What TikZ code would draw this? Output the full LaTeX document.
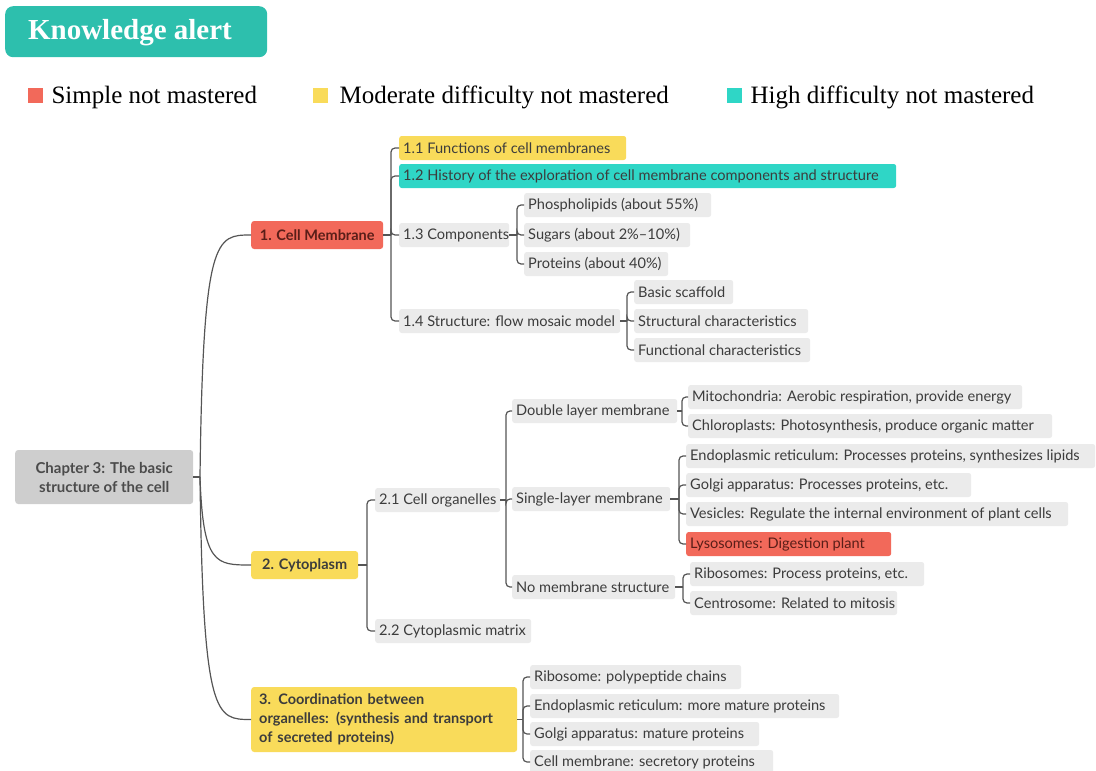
\documentclass[tikz,border=0pt]{standalone}
\usepackage{fontspec}
\setmainfont{Liberation Serif}
\newfontfamily\mapfont{Lato}
\usetikzlibrary{calc}
\definecolor{hdrteal}{HTML}{2DBFAD}
\definecolor{cred}{HTML}{F2695A}
\definecolor{cyel}{HTML}{F9DB5A}
\definecolor{cteal}{HTML}{2FD6C6}
\definecolor{leafgray}{HTML}{EBEBEB}
\definecolor{rootgray}{HTML}{CECECE}
\definecolor{txt}{HTML}{3C3C3C}
\definecolor{redtxt}{HTML}{5A1E18}
\definecolor{linec}{HTML}{555555}
\newcommand\leaf[6]{%
  \node[#2, minimum width=#5pt] (#1) at (#3,#4) {\makebox[\dimexpr#5pt-8pt\relax][l]{#6}};}
\newcommand\brk[3]{%
  \draw[conn] (#1.east) -- (#2,0 |- #1.east);
  \foreach \c in {#3}{\draw[conn,rounded corners=4pt] (#2,0 |- #1.east) |- (\c.west);}}
\begin{document}
\begin{tikzpicture}[x=1pt,y=-1pt,
  leaf/.style={anchor=west, fill=leafgray, rounded corners=2.5pt, minimum height=24pt,
    inner xsep=4pt, inner ysep=0pt, text=txt, font=\mapfont\fontsize{14.6}{16}\selectfont},
  yleaf/.style={leaf, fill=cyel},
  tleaf/.style={leaf, fill=cteal},
  rleaf/.style={leaf, fill=cred, text=redtxt},
  lvl/.style={anchor=west, rounded corners=3pt, minimum height=28pt, inner xsep=8pt,
    inner ysep=0pt, text=txt, font=\mapfont\bfseries\fontsize{14.5}{16}\selectfont},
  conn/.style={draw=linec, line width=1.2pt},
  legend/.style={anchor=west, font=\fontsize{25}{28}\selectfont, text=black},
  sq/.style={minimum size=15pt, inner sep=0pt, anchor=north west}
]
\useasboundingbox (0,0) rectangle (1096,771);

% header
\node[fill=hdrteal, rounded corners=8pt, minimum width=262pt, minimum height=51pt, anchor=north west] (hdr) at (5,6) {};
\node[text=white, font=\bfseries\fontsize{29}{32}\selectfont, inner sep=0pt] (hdrt) at (130,33) {Knowledge alert};

% legend
\node[sq, fill=cred] (sq1) at (28,88) {};
\node[legend] (lg1) at (48,97) {Simple not mastered};
\node[sq, fill=cyel] (sq2) at (313,88) {};
\node[legend] (lg2) at (336,97) {Moderate difficulty not mastered};
\node[sq, fill=cteal] (sq3) at (727,88) {};
\node[legend] (lg3) at (747,97) {High difficulty not mastered};

% root
\node[fill=rootgray, rounded corners=3pt, minimum width=178pt, minimum height=54pt, anchor=west,
  align=center, text=txt!92!white, font=\mapfont\bfseries\fontsize{15}{19}\selectfont]
  (root) at (15,477) {Chapter 3: The basic\\structure of the cell};

% level 1
\node[lvl, fill=cred, text=redtxt, minimum width=132pt] (L1) at (251,235) {1. Cell Membrane};
\node[lvl, fill=cyel, minimum width=107pt] (L2) at (251,565) {2. Cytoplasm};
\node[lvl, fill=cyel, minimum height=65pt, text width=250pt, align=left,
  font=\mapfont\bfseries\fontsize{14.5}{19}\selectfont] (L3) at (251,719.5)
  {3. Coordination between\\organelles: (synthesis and transport\\of secreted proteins)};

% cell membrane
\leaf{l11}{yleaf}{399}{148}{227}{1.1 Functions of cell membranes}
\leaf{l12}{tleaf}{399}{176}{497}{1.2 History of the exploration of cell membrane components and structure}
\leaf{l13}{leaf}{399}{235}{110}{1.3 Components}
\leaf{l14}{leaf}{399}{321}{221}{1.4 Structure: flow mosaic model}
\leaf{c131}{leaf}{524}{205}{187}{Phospholipids (about 55\%)}
\leaf{c132}{leaf}{524}{235}{166}{Sugars (about 2\%–10\%)}
\leaf{c133}{leaf}{524}{264}{144}{Proteins (about 40\%)}
\leaf{c141}{leaf}{634}{292}{99}{Basic scaffold}
\leaf{c142}{leaf}{634}{321}{174}{Structural characteristics}
\leaf{c143}{leaf}{634}{350}{176}{Functional characteristics}

% cytoplasm
\leaf{l21}{leaf}{375}{500}{125}{2.1 Cell organelles}
\leaf{l22}{leaf}{375}{631}{156}{2.2 Cytoplasmic matrix}
\leaf{d1}{leaf}{512}{411}{165}{Double layer membrane}
\leaf{d2}{leaf}{512}{499}{158}{Single-layer membrane}
\leaf{d3}{leaf}{512}{587}{163}{No membrane structure}
\leaf{m1}{leaf}{688}{397}{334}{Mitochondria: Aerobic respiration, provide energy}
\leaf{m2}{leaf}{688}{426}{364}{Chloroplasts: Photosynthesis, produce organic matter}
\leaf{s1}{leaf}{686}{456}{409}{Endoplasmic reticulum: Processes proteins, synthesizes lipids}
\leaf{s2}{leaf}{686}{485}{285}{Golgi apparatus: Processes proteins, etc.}
\leaf{s3}{leaf}{686}{514}{382}{Vesicles: Regulate the internal environment of plant cells}
\leaf{s4}{rleaf}{686}{544}{205}{Lysosomes: Digestion plant}
\leaf{n1}{leaf}{690}{574}{234}{Ribosomes: Process proteins, etc.}
\leaf{n2}{leaf}{690}{603}{207}{Centrosome: Related to mitosis}

% coordination
\leaf{k1}{leaf}{530}{677}{211}{Ribosome: polypeptide chains}
\leaf{k2}{leaf}{530}{706}{309}{Endoplasmic reticulum: more mature proteins}
\leaf{k3}{leaf}{530}{734}{229}{Golgi apparatus: mature proteins}
\leaf{k4}{leaf}{530}{762}{243}{Cell membrane: secretory proteins}

% root connectors
\coordinate (rs) at (200,477);
\draw[conn] (root.east) -- (rs);
\foreach \n in {L1,L2,L3}{
  \draw[conn] (rs) .. controls ($(rs|-\n.west)+(3,0)$) and ($(rs|-\n.west)+(16,0)$) .. (\n.west);}

% brackets
\brk{L1}{391}{l11,l12,l13,l14}
\brk{l13}{517}{c131,c132,c133}
\brk{l14}{627}{c141,c142,c143}
\brk{L2}{367}{l21,l22}
\brk{l21}{506}{d1,d2,d3}
\brk{d1}{682}{m1,m2}
\brk{d2}{679}{s1,s2,s3,s4}
\brk{d3}{683}{n1,n2}
\brk{L3}{523}{k1,k2,k3,k4}
\end{tikzpicture}
\end{document}
